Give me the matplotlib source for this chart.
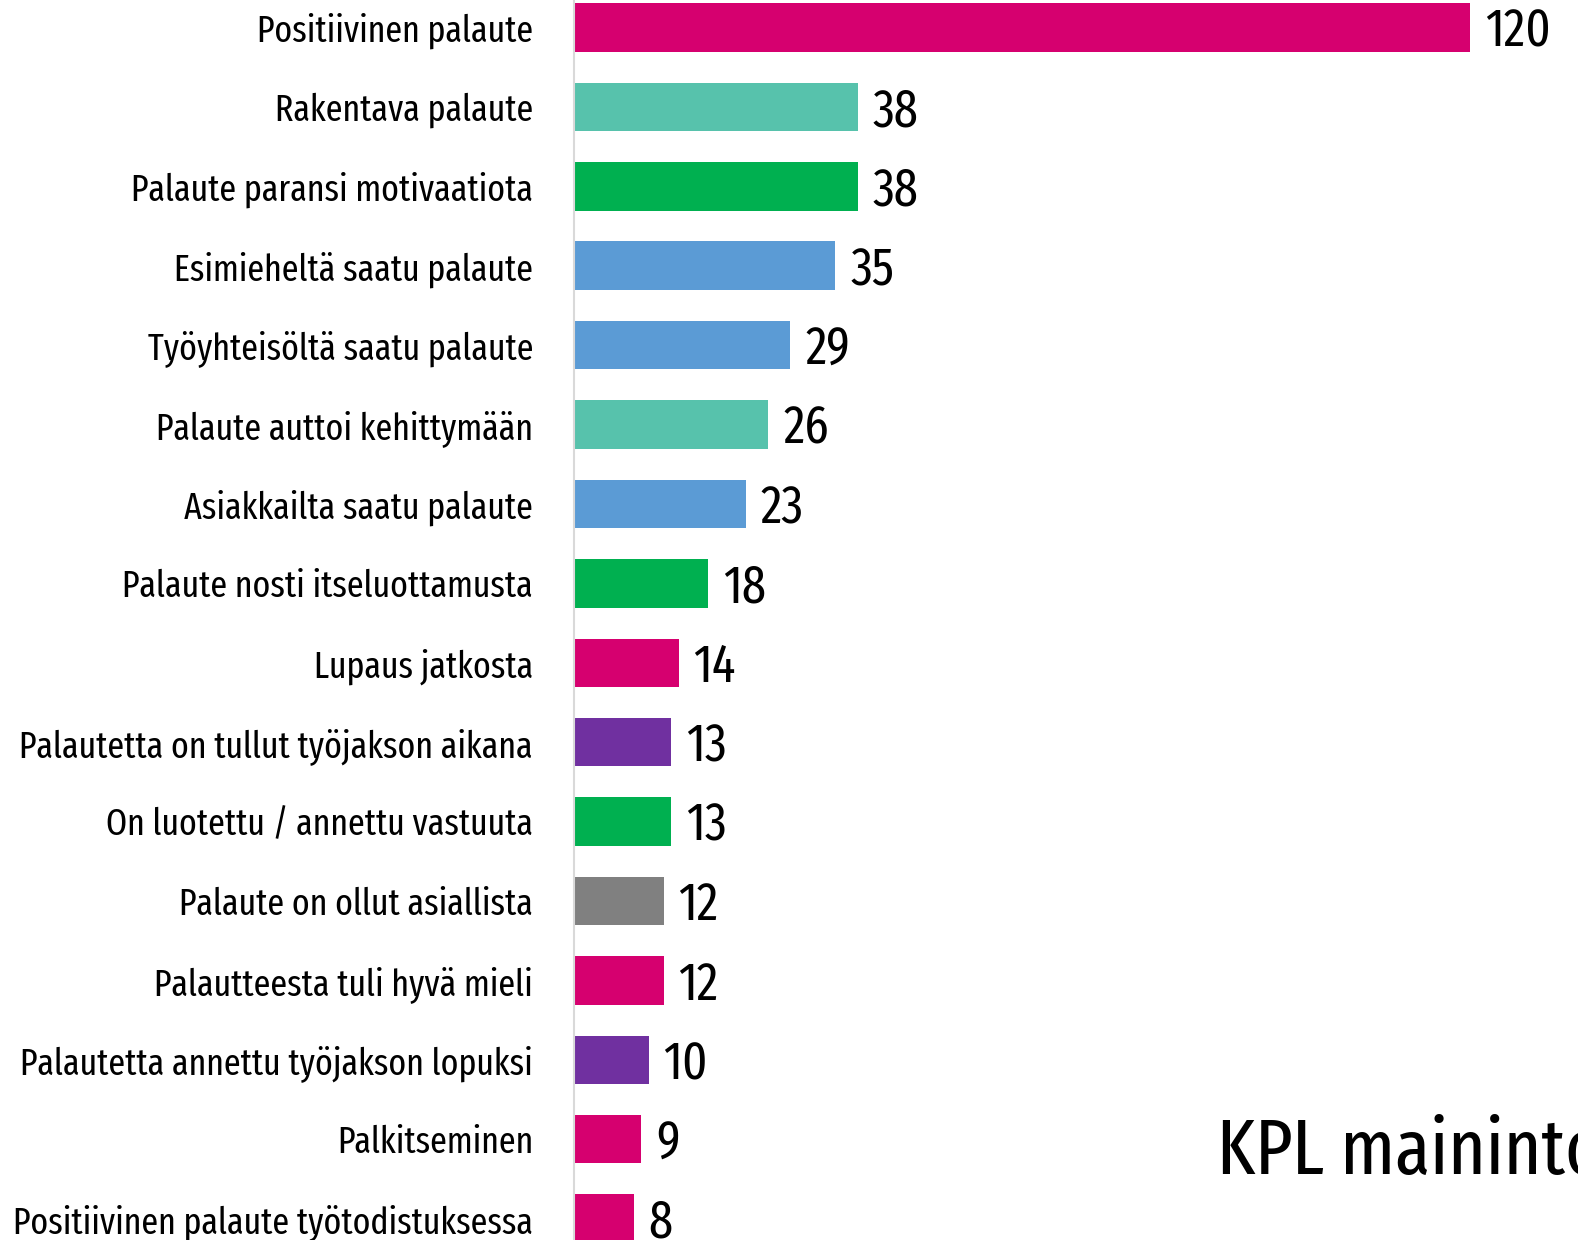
import matplotlib
matplotlib.use("Agg")
import matplotlib.pyplot as plt

categories = [
    "Positiivinen palaute",
    "Rakentava palaute",
    "Palaute paransi motivaatiota",
    "Esimieheltä saatu palaute",
    "Työyhteisöltä saatu palaute",
    "Palaute auttoi kehittymään",
    "Asiakkailta saatu palaute",
    "Palaute nosti itseluottamusta",
    "Lupaus jatkosta",
    "Palautetta on tullut työjakson aikana",
    "On luotettu / annettu vastuuta",
    "Palaute on ollut asiallista",
    "Palautteesta tuli hyvä mieli",
    "Palautetta annettu työjakson lopuksi",
    "Palkitseminen",
    "Positiivinen palaute työtodistuksessa",
]
values = [120, 38, 38, 35, 29, 26, 23, 18, 14, 13, 13, 12, 12, 10, 9, 8]
bar_colors = ["#D6006F", "#57C2AC", "#00B050", "#5B9BD5", "#5B9BD5", "#57C2AC",
              "#5B9BD5", "#00B050", "#D6006F", "#7030A0", "#00B050", "#808080",
              "#D6006F", "#7030A0", "#D6006F", "#D6006F"]
axis_label = "KPL mainintoja"

plt.rcParams['font.family'] = ['Fira Sans Extra Condensed', 'Fira Sans Condensed',
                               'Roboto Condensed', 'DejaVu Sans']

W, H = 1578, 1240
fig = plt.figure(figsize=(W / 100, H / 100), dpi=100)
ax = fig.add_axes([574 / W, 0, 1 - 574 / W, 1])

pos = list(range(len(categories)))
ax.barh(pos, values, height=0.61, color=bar_colors)
for p, v in zip(pos, values):
    ax.text(v + 2.0, p + 0.06, str(v), va="center", ha="left", fontsize=38)

ax.set_xlim(0, 134.5)
ax.set_ylim(15.27, -0.346)
ax.set_yticks(pos)
ax.set_yticklabels(categories, fontsize=26.5)
ax.tick_params(axis="y", length=0, pad=29.5)
ax.set_xticks([])
for s in ["top", "right", "bottom"]:
    ax.spines[s].set_visible(False)
ax.spines["left"].set_color("#d9d9d9")
ax.spines["left"].set_linewidth(1.5)

fig.text(1217 / W, 1 - 1173 / H, axis_label, fontsize=56,
         ha="left", va="baseline")

fig.savefig("out.png", dpi=100)
